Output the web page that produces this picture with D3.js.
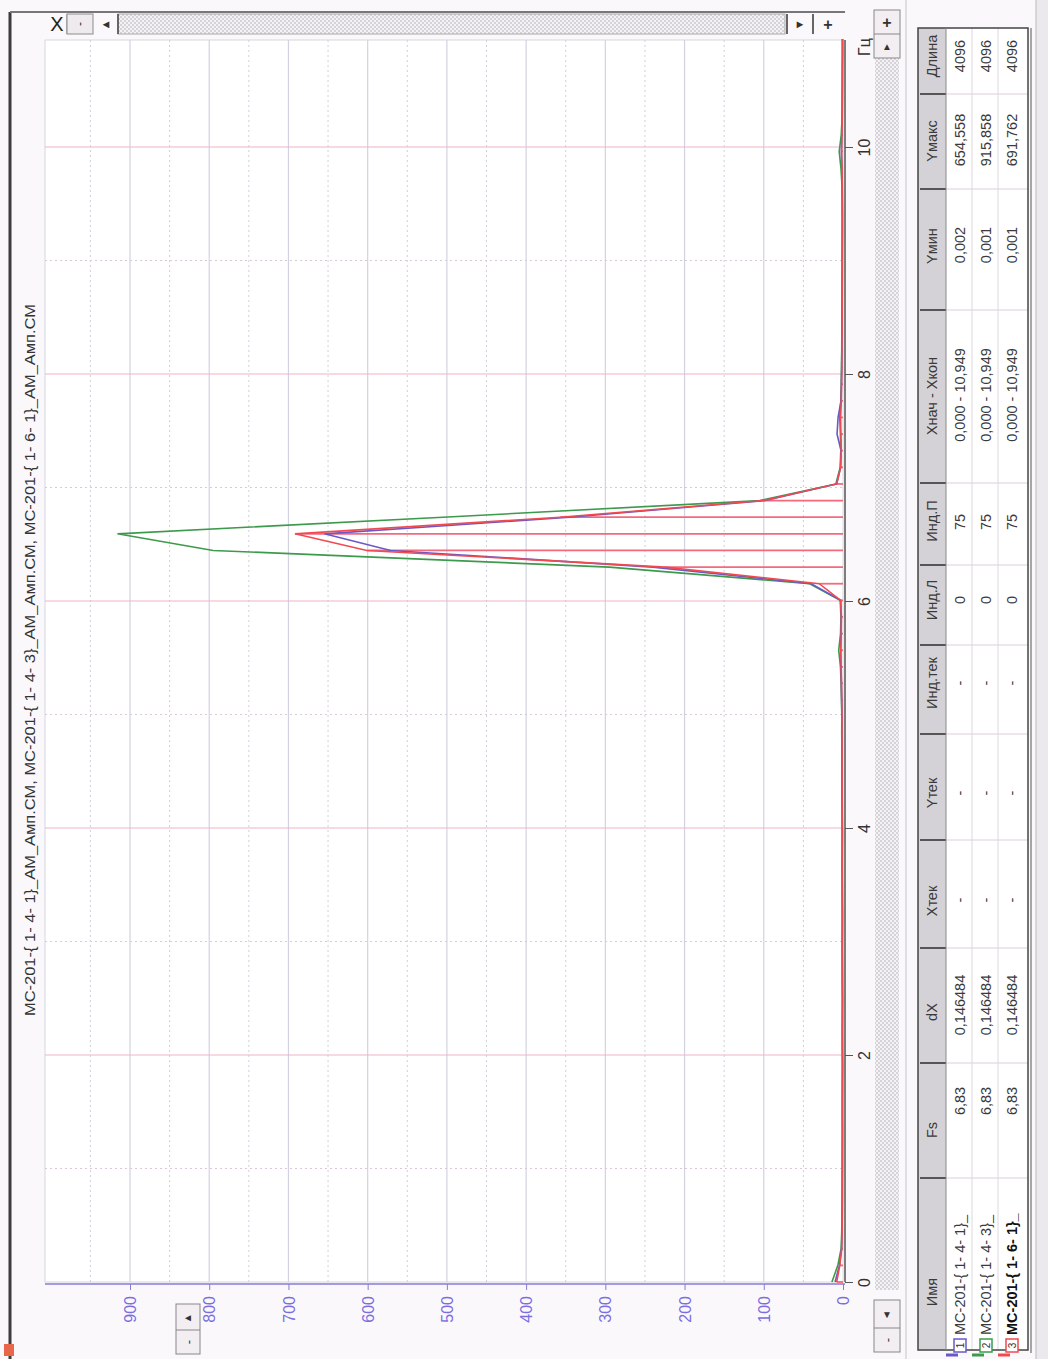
<!DOCTYPE html>
<html>
<head>
<meta charset="utf-8">
<script src="https://cdn.jsdelivr.net/npm/d3@7"></script>
<style>
  body { margin: 0; background: #faf8fa; }
  svg { display: block; font-family: "Liberation Sans", Arial, sans-serif; }
</style>
</head>
<body>
<div id="chart"></div>
<script>
// data: amplitude spectra, step dX = 0.146484 Hz, indices 0..75
let dX = 0.146484;
let greenVals = [14, 6.5, 2.4, 1.6, 1.3, 1.1, 1.0, 0.9, 0.9, 0.8, 0.8, 0.9, 0.8, 0.7, 0.8, 0.9, 0.8, 0.7, 0.8, 0.9,
  1.0, 0.9, 0.8, 0.9, 1.0, 1.1, 1.0, 0.9, 1.0, 1.2, 1.3, 1.2, 1.4, 1.6, 1.5, 1.9, 2.4, 3.2, 5.4, 3.1,
  2.6, 3.5, 42, 295, 795, 915.858, 505, 105, 9, 3.6, 2.8, 3.3, 4.1, 2.7, 2.2, 1.9, 1.6, 1.5, 1.3, 1.2,
  1.1, 1.0, 1.0, 0.9, 0.9, 1.0, 1.3, 2.6, 4.8, 2.2, 1.2, 1.0, 0.9, 0.8, 0.7, 0.7];
let blueVals = [10, 4.5, 1.8, 1.2, 1.0, 0.9, 0.8, 0.8, 0.7, 0.7, 0.8, 0.7, 0.7, 0.6, 0.7, 0.8, 0.7, 0.7, 0.8, 0.8,
  0.9, 0.8, 0.8, 0.9, 0.9, 1.0, 0.9, 0.9, 1.0, 1.1, 1.1, 1.2, 1.3, 1.4, 1.4, 1.7, 2.0, 2.6, 3.0, 2.4,
  2.2, 3.0, 40, 240, 571, 654.558, 345, 98, 8, 3.0, 2.4, 7.5, 6.2, 2.5, 2.0, 1.7, 1.5, 1.3, 1.2, 1.1,
  1.0, 0.9, 0.9, 0.8, 0.8, 0.9, 1.0, 1.4, 2.0, 1.5, 1.0, 0.9, 0.8, 0.7, 0.6, 0.6];
let redVals = [8, 4, 1.6, 1.1, 0.9, 0.8, 0.8, 0.7, 0.7, 0.6, 0.7, 0.7, 0.6, 0.6, 0.7, 0.7, 0.7, 0.6, 0.7, 0.8,
  0.8, 0.8, 0.7, 0.8, 0.9, 0.9, 0.9, 0.8, 0.9, 1.0, 1.1, 1.1, 1.2, 1.3, 1.3, 1.6, 1.9, 2.3, 2.8, 2.2,
  2.0, 3.0, 30, 225, 601, 691.762, 357, 100, 8, 3.0, 2.2, 2.6, 3.0, 2.1, 1.8, 1.5, 1.4, 1.2, 1.1, 1.0,
  0.9, 0.9, 0.8, 0.8, 0.7, 0.8, 0.9, 1.2, 1.8, 1.3, 0.9, 0.8, 0.7, 0.7, 0.6, 0.6];

let seriesColors = ["#6b58c8", "#3d9a4c", "#f04a50"];
let hzTicks = [0, 2, 4, 6, 8, 10];
let ampTicks = [0, 100, 200, 300, 400, 500, 600, 700, 800, 900];

let titleText = "МС-201-{ 1- 4- 1}_АМ_Амп.СМ, МС-201-{ 1- 4- 3}_АМ_Амп.СМ, МС-201-{ 1- 6- 1}_АМ_Амп.СМ";

// table
let headers = ["Имя", "Fs", "dX", "Xтек", "Yтек", "Инд.тек", "Инд.Л", "Инд.П", "Xнач - Xкон", "Yмин", "Yмакс", "Длина"];
let names = ["МС-201-{ 1- 4- 1}_", "МС-201-{ 1- 4- 3}_", "МС-201-{ 1- 6- 1}_"];
let fsCol = ["6,83", "6,83", "6,83"];
let dxCol = ["0,146484", "0,146484", "0,146484"];
let xtekCol = ["-", "-", "-"];
let ytekCol = ["-", "-", "-"];
let indTekCol = ["-", "-", "-"];
let indLCol = ["0", "0", "0"];
let indPCol = ["75", "75", "75"];
let rangeCol = ["0,000 - 10,949", "0,000 - 10,949", "0,000 - 10,949"];
let yminCol = ["0,002", "0,001", "0,001"];
let ymaxCol = ["654,558", "915,858", "691,762"];
let lenCol = ["4096", "4096", "4096"];

let svgWidth = 1048, svgHeight = 1359;
let svg = d3.select("#chart").append("svg")
  .attr("width", svgWidth)
  .attr("height", svgHeight);

let defs = svg.append("defs");
let pat = defs.append("pattern").attr("id", "checker")
  .attr("width", 4).attr("height", 4).attr("patternUnits", "userSpaceOnUse");
pat.append("rect").attr("width", 4).attr("height", 4).attr("fill", "#f4f2f4");
pat.append("rect").attr("width", 2).attr("height", 2).attr("fill", "#d6d3d8");
pat.append("rect").attr("x", 2).attr("y", 2).attr("width", 2).attr("height", 2).attr("fill", "#d6d3d8");

// plot box (chart is drawn turned by 90 degrees: Hz runs up, amplitude runs left)
let plot = { left: 45, right: 843, top: 40, bottom: 1282 };
defs.append("clipPath").attr("id", "plotClip")
  .append("rect").attr("x", plot.left).attr("y", plot.top - 1)
  .attr("width", plot.right - plot.left + 3).attr("height", plot.bottom - plot.top + 2);

let hz = d3.scaleLinear().domain([0, 10]).range([plot.bottom, 147]);
let amp = d3.scaleLinear().domain([0, 900]).range([plot.right, 130]);

function vtext(g, x, y, str, anchor) {
  return g.append("text")
    .attr("transform", `translate(${x},${y}) rotate(-90)`)
    .attr("dy", "0.35em")
    .attr("text-anchor", anchor || "middle")
    .text(str);
}

// window frame
svg.append("rect").attr("x", 0).attr("y", 0).attr("width", svgWidth).attr("height", svgHeight).attr("fill", "#faf8fa");
svg.append("line").attr("x1", 10).attr("x2", 10).attr("y1", 12).attr("y2", svgHeight)
  .attr("stroke", "#3c3c3c").attr("stroke-width", 3);
svg.append("line").attr("x1", 10).attr("x2", 845).attr("y1", 12).attr("y2", 12)
  .attr("stroke", "#777").attr("stroke-width", 2);
svg.append("rect").attr("x", 4).attr("y", 1344).attr("width", 10).attr("height", 12).attr("fill", "#e8664a");

// title
vtext(svg, 30, 660, titleText).attr("font-size", 14)
  .attr("textLength", 712).attr("lengthAdjust", "spacingAndGlyphs").attr("fill", "#333");

// plot background
svg.append("rect").attr("x", plot.left).attr("y", plot.top)
  .attr("width", plot.right - plot.left).attr("height", plot.bottom - plot.top)
  .attr("fill", "#ffffff").attr("stroke", "#d6d6e0");

// grid: amplitude
let grid = svg.append("g");
grid.selectAll(".ga").data(ampTicks.filter(d => d > 0)).enter().append("line")
  .attr("x1", d => amp(d)).attr("x2", d => amp(d))
  .attr("y1", plot.top).attr("y2", plot.bottom)
  .attr("stroke", "#d2d2e2").attr("stroke-width", 1.2);
grid.selectAll(".gad").data(ampTicks.map(d => d + 50)).enter().append("line")
  .attr("x1", d => amp(d)).attr("x2", d => amp(d))
  .attr("y1", plot.top).attr("y2", plot.bottom)
  .attr("stroke", "#cfcfdc").attr("stroke-dasharray", "2,3");
// grid: Hz
grid.selectAll(".gh").data(hzTicks.filter(d => d > 0)).enter().append("line")
  .attr("x1", plot.left).attr("x2", plot.right)
  .attr("y1", d => hz(d)).attr("y2", d => hz(d))
  .attr("stroke", "#f0b4c4").attr("stroke-width", 1.2);
grid.selectAll(".ghd").data([1, 3, 5, 7, 9]).enter().append("line")
  .attr("x1", plot.left).attr("x2", plot.right)
  .attr("y1", d => hz(d)).attr("y2", d => hz(d))
  .attr("stroke", "#d8c8d8").attr("stroke-dasharray", "2,3");

// series
let allSeries = [blueVals, greenVals, redVals].map(vals => vals.map((v, i) => ({ f: i * dX, v: v })));
let line = d3.line().x(d => amp(d.v)).y(d => hz(d.f));
let marks = svg.append("g").attr("clip-path", "url(#plotClip)");

// red stems from zero to each red sample
marks.selectAll(".stem").data(allSeries[2]).enter().append("line")
  .attr("x1", amp(0)).attr("x2", d => amp(d.v))
  .attr("y1", d => hz(d.f)).attr("y2", d => hz(d.f))
  .attr("stroke", "#f26a7c").attr("stroke-width", 1.8);

[1, 0, 2].forEach(k => {
  marks.append("path").datum(allSeries[k])
    .attr("d", line)
    .attr("fill", "none")
    .attr("stroke", seriesColors[k])
    .attr("stroke-width", 1.6);
});

// Hz axis (right side)
let hzAxis = svg.append("g").attr("transform", `translate(${plot.right + 2},0)`);
hzAxis.call(d3.axisRight(hz).tickValues(d3.range(0, 10.95, 0.2)).tickSize(4).tickFormat(""));
hzAxis.call(d3.axisRight(hz).tickValues(hzTicks).tickSize(8).tickFormat(d3.format("d")));
hzAxis.selectAll(".domain").remove();
hzAxis.selectAll("line").attr("stroke", "#555");
hzAxis.selectAll("text")
  .attr("x", null).attr("dy", "0.35em")
  .attr("transform", "translate(19,0) rotate(-90)")
  .attr("text-anchor", "middle")
  .attr("font-size", 16).attr("fill", "#333");
hzAxis.append("line").attr("x1", 0).attr("x2", 0).attr("y1", plot.top).attr("y2", plot.bottom)
  .attr("stroke", "#555").attr("stroke-width", 1.5);
vtext(svg, plot.right + 21, 47, "Гц").attr("font-size", 16).attr("fill", "#333");

// amplitude axis (bottom)
let ampAxis = svg.append("g").attr("transform", `translate(0,${plot.bottom + 2})`);
ampAxis.call(d3.axisBottom(amp).tickValues(d3.range(0, 1001, 10)).tickSize(3).tickFormat(""));
ampAxis.call(d3.axisBottom(amp).tickValues(ampTicks).tickSize(6).tickFormat(d3.format("d")));
ampAxis.selectAll(".domain").remove();
ampAxis.selectAll("line").attr("stroke", "#8a7ad8");
ampAxis.selectAll(".tick").filter(d => amp(d) < plot.left).remove();
ampAxis.selectAll("text")
  .attr("y", null).attr("dy", "0.35em")
  .attr("transform", "translate(0,12) rotate(-90)")
  .attr("text-anchor", "end")
  .attr("font-size", 16).attr("fill", "#7a6ee0");
ampAxis.append("line").attr("x1", plot.left).attr("x2", plot.right + 2).attr("y1", 0).attr("y2", 0)
  .attr("stroke", "#8a7ad8").attr("stroke-width", 1.6);

// scroll bars
function button(x, y, w, h, glyph, size) {
  svg.append("rect").attr("x", x).attr("y", y).attr("width", w).attr("height", h)
    .attr("fill", "#eeeaee").attr("stroke", "#8c8c8c");
  vtext(svg, x + w / 2, y + h / 2, glyph).attr("font-size", size || 12).attr("fill", "#333");
}
// top bar
svg.append("rect").attr("x", 118).attr("y", 14).attr("width", 667).attr("height", 20).attr("fill", "url(#checker)")
  .attr("stroke", "#aaa");
svg.append("text").attr("x", 57).attr("y", 24).attr("dy", "0.35em").attr("text-anchor", "middle")
  .attr("font-size", 20).attr("fill", "#222").text("X");
svg.append("line").attr("x1", 67).attr("x2", 67).attr("y1", 14).attr("y2", 34).attr("stroke", "#888");
button(67, 14, 26, 20, "-", 12);
svg.append("text").attr("x", 106).attr("y", 24).attr("dy", "0.35em").attr("text-anchor", "middle")
  .attr("font-size", 11).attr("fill", "#333").text("◄");
svg.append("line").attr("x1", 118).attr("x2", 118).attr("y1", 14).attr("y2", 34).attr("stroke", "#666").attr("stroke-width", 2);
svg.append("text").attr("x", 800).attr("y", 24).attr("dy", "0.35em").attr("text-anchor", "middle")
  .attr("font-size", 11).attr("fill", "#333").text("►");
svg.append("line").attr("x1", 787).attr("x2", 787).attr("y1", 14).attr("y2", 34).attr("stroke", "#666").attr("stroke-width", 2);
svg.append("line").attr("x1", 813).attr("x2", 813).attr("y1", 14).attr("y2", 34).attr("stroke", "#666").attr("stroke-width", 2);
svg.append("text").attr("x", 828).attr("y", 24).attr("dy", "0.35em").attr("text-anchor", "middle")
  .attr("font-size", 16).attr("font-weight", "bold").attr("fill", "#333").text("+");

// right bar
svg.append("rect").attr("x", 875).attr("y", 58).attr("width", 24).attr("height", 1232).attr("fill", "url(#checker)");
svg.append("rect").attr("x", 874).attr("y", 10).attr("width", 26).attr("height", 48).attr("fill", "#f2eef2").attr("stroke", "#888");
svg.append("line").attr("x1", 874).attr("x2", 900).attr("y1", 34).attr("y2", 34).attr("stroke", "#888");
svg.append("text").attr("x", 887).attr("y", 22).attr("dy", "0.35em").attr("text-anchor", "middle")
  .attr("font-size", 16).attr("font-weight", "bold").attr("fill", "#333").text("+");
svg.append("text").attr("x", 887).attr("y", 46).attr("dy", "0.35em").attr("text-anchor", "middle")
  .attr("font-size", 10).attr("fill", "#333").text("▲");
svg.append("rect").attr("x", 874).attr("y", 1300).attr("width", 26).attr("height", 52).attr("fill", "#f2eef2").attr("stroke", "#888");
svg.append("line").attr("x1", 874).attr("x2", 900).attr("y1", 1328).attr("y2", 1328).attr("stroke", "#888");
svg.append("text").attr("x", 887).attr("y", 1314).attr("dy", "0.35em").attr("text-anchor", "middle")
  .attr("font-size", 10).attr("fill", "#333").text("▼");
vtext(svg, 887, 1340, "-").attr("font-size", 13).attr("fill", "#333");

// bottom-left buttons
svg.append("rect").attr("x", 176).attr("y", 1304).attr("width", 24).attr("height", 50).attr("fill", "#f2eef2").attr("stroke", "#888");
svg.append("line").attr("x1", 176).attr("x2", 200).attr("y1", 1330).attr("y2", 1330).attr("stroke", "#888");
svg.append("text").attr("x", 188).attr("y", 1317).attr("dy", "0.35em").attr("text-anchor", "middle")
  .attr("font-size", 10).attr("fill", "#333").text("◄");
vtext(svg, 188, 1342, "-").attr("font-size", 13).attr("fill", "#333");

// table
let tbl = { left: 918, right: 1028, top: 28, bottom: 1350, headRight: 946 };
let rowX = [960, 986, 1012];
let colEdges = [1350, 1178, 1063, 948, 840, 734, 645, 565, 483, 310, 189, 94, 28];
let headCenters = [1292, 1130, 1012, 901, 793, 683, 600, 521, 396, 246, 141, 56];
let valCenters = [null, 1101, 1005, 900, 793, 683, 600, 522, 395, 245, 140, 56];
let cols = [names, fsCol, dxCol, xtekCol, ytekCol, indTekCol, indLCol, indPCol, rangeCol, yminCol, ymaxCol, lenCol];

svg.append("line").attr("x1", 906).attr("x2", 906).attr("y1", 0).attr("y2", svgHeight).attr("stroke", "#c8c4cc");
svg.append("rect").attr("x", tbl.left).attr("y", tbl.top).attr("width", tbl.right - tbl.left).attr("height", tbl.bottom - tbl.top)
  .attr("fill", "#ffffff");
svg.append("rect").attr("x", tbl.left).attr("y", tbl.top).attr("width", tbl.headRight - tbl.left).attr("height", tbl.bottom - tbl.top)
  .attr("fill", "#d4d2d6");
let tg = svg.append("g").attr("font-size", 14.5).attr("fill", "#3a3a3a");
colEdges.slice(1, -1).forEach(y => {
  svg.append("line").attr("x1", tbl.left + 2).attr("x2", tbl.headRight).attr("y1", y).attr("y2", y)
    .attr("stroke", "#555").attr("stroke-width", 2);
  svg.append("line").attr("x1", tbl.headRight).attr("x2", tbl.right).attr("y1", y).attr("y2", y)
    .attr("stroke", "#dccfdc");
});
[972, 998].forEach(x => {
  svg.append("line").attr("x1", x).attr("x2", x).attr("y1", tbl.top).attr("y2", tbl.bottom)
    .attr("stroke", "#dcd8dc");
});
headers.forEach((h, i) => vtext(tg, 932, headCenters[i], h));
cols.forEach((col, c) => {
  col.forEach((v, r) => {
    if (c === 0) {
      vtext(tg, rowX[r], 1335, v, "start").attr("font-weight", r === 2 ? "bold" : null)
        .attr("fill", r === 2 ? "#111" : "#3a3a3a");
    } else {
      vtext(tg, rowX[r], valCenters[c], v);
    }
  });
});
svg.append("rect").attr("x", tbl.left).attr("y", tbl.top).attr("width", tbl.right - tbl.left).attr("height", tbl.bottom - tbl.top)
  .attr("fill", "none").attr("stroke", "#444").attr("stroke-width", 1.5);
svg.append("line").attr("x1", tbl.right + 3).attr("x2", tbl.right + 3).attr("y1", tbl.top).attr("y2", tbl.bottom + 3)
  .attr("stroke", "#555");
svg.append("line").attr("x1", tbl.headRight).attr("x2", tbl.headRight).attr("y1", tbl.top).attr("y2", tbl.bottom)
  .attr("stroke", "#888");

// legend markers in the name column
rowX.forEach((x, r) => {
  svg.append("line").attr("x1", x - 14).attr("x2", x - 2).attr("y1", 1355).attr("y2", 1355)
    .attr("stroke", seriesColors[r]).attr("stroke-width", 3);
  svg.append("rect").attr("x", x - 6).attr("y", 1339).attr("width", 12).attr("height", 13)
    .attr("fill", "#fff").attr("stroke", seriesColors[r]).attr("stroke-width", 1.5);
  vtext(svg, x, 1345.5, String(r + 1)).attr("font-size", 10).attr("fill", "#333");
});

// right window edge
svg.append("rect").attr("x", 1036).attr("y", 0).attr("width", 12).attr("height", svgHeight).attr("fill", "#ece9ee");
svg.append("line").attr("x1", 1036).attr("x2", 1036).attr("y1", 0).attr("y2", svgHeight).attr("stroke", "#bbb");
</script>
</body>
</html>
